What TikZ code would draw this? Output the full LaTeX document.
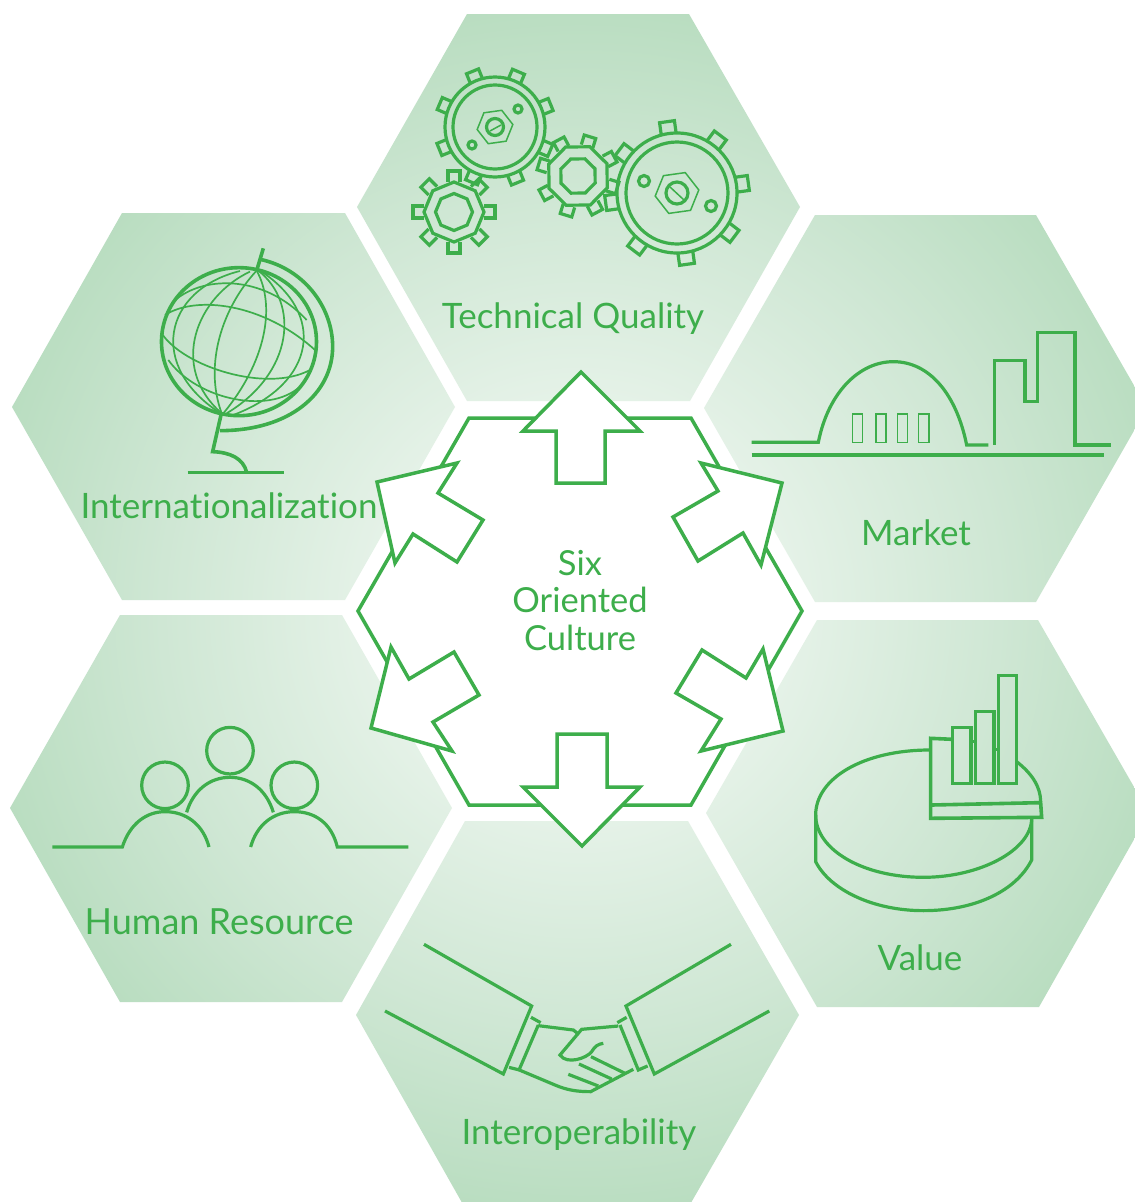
\documentclass[tikz,border=0pt]{standalone}
\usepackage{fontspec}
\setmainfont{Lato}[Ligatures=NoCommon]
\definecolor{ink}{HTML}{3DAE4B}
\pgfdeclareradialshading{hexglow}{\pgfpoint{0bp}{0bp}}{%
  rgb(0bp)=(0.93,0.97,0.94);
  rgb(8bp)=(0.90,0.95,0.91);
  rgb(16.5bp)=(0.81,0.905,0.83);
  rgb(25bp)=(0.71,0.86,0.74);
  rgb(50bp)=(0.71,0.86,0.74)}
\newcommand{\gearteeth}[6]{% cx cy offset r0 r1 hw
  \foreach \ang in {0,45,...,315}{
    \draw[heavy,shift={(#1,#2)},rotate=\ang+#3] (#4pt,-#6pt) -- (#5pt,-#6pt) -- (#5pt,#6pt) -- (#4pt,#6pt);
  }}
\newcommand{\octa}[4]{% cx cy offset r
  \draw[heavy,shift={(#1,#2)},rotate=#3] (0:#4pt) -- (45:#4pt) -- (90:#4pt) -- (135:#4pt) -- (180:#4pt) -- (225:#4pt) -- (270:#4pt) -- (315:#4pt) -- cycle;}
\newcommand{\hexa}[4]{% cx cy offset r
  \draw[fine,shift={(#1,#2)},rotate=#3] (0:#4pt) -- (60:#4pt) -- (120:#4pt) -- (180:#4pt) -- (240:#4pt) -- (300:#4pt) -- cycle;}
\tikzset{
  heavy/.style={draw=ink,line width=3.2pt,line join=miter},
  fine/.style={draw=ink,line width=1.5pt},
  hair/.style={draw=ink,line width=1.7pt},
  bold/.style={draw=ink,line width=3.6pt},
  arrowshape/.style={draw=ink,fill=white,line width=3.5pt,line join=miter},
  label/.style={text=ink,inner sep=0pt,font=\fontsize{35}{38}\selectfont,align=center},
}
\begin{document}
\begin{tikzpicture}[x=1pt,y=-1pt]
\useasboundingbox (0,0) rectangle (1135,1202);
\clip (0,0) rectangle (1135,1202);
\fill[white] (0,0) rectangle (1135,1202);
% hexagons
\begin{scope}
\clip (467,14) -- (689,14) -- (800,207) -- (690,401) -- (467,401) -- (357,207) -- cycle
      (815,215) -- (1036,215) -- (1147,408) -- (1036,602) -- (815,602) -- (704,408) -- cycle
      (817,620) -- (1038,620) -- (1149,813) -- (1039,1007) -- (817,1007) -- (706,813) -- cycle
      (465,821) -- (688,821) -- (799,1015) -- (688,1208) -- (465,1208) -- (356,1015) -- cycle
      (120,615) -- (342,615) -- (452,808) -- (342,1002) -- (120,1002) -- (10,808) -- cycle
      (122,213) -- (345,213) -- (455,407) -- (345,600) -- (122,600) -- (12,407) -- cycle;
\shade[shading=hexglow] (580,610) circle[radius=640pt];
\end{scope}
% centre hexagon
\draw[arrowshape] (469,418) -- (691,418) -- (802,611) -- (691,805) -- (469,805) -- (358,611) -- cycle;
% arrows
\draw[arrowshape] (581,372) -- (640,431) -- (605,431) -- (605,483) -- (556,483) -- (556,431) -- (523,431) -- cycle;
\draw[arrowshape] (582,846) -- (640,787) -- (607,787) -- (607,734) -- (557,734) -- (557,787) -- (523,787) -- cycle;
\draw[arrowshape] (377,482) -- (457,463) -- (438,493) -- (483,520) -- (457,562) -- (413,534) -- (395,563) -- cycle;
\draw[arrowshape] (782,483) -- (701,463) -- (718,491) -- (673,517) -- (698,561) -- (743,533) -- (761,565) -- cycle;
\draw[arrowshape] (371,728) -- (391,647) -- (409,679) -- (454,652) -- (479,695) -- (433,722) -- (452,751) -- cycle;
\draw[arrowshape] (783,731) -- (763,649) -- (746,678) -- (702,650) -- (676,693) -- (721,719) -- (701,751) -- cycle;
% gears
\gearteeth{495}{127}{22}{49}{60}{6.5}
\draw[heavy] (495,127) circle[radius=50pt] (495,127) circle[radius=42pt];
\hexa{495}{127}{8}{18}
\draw[heavy] (495,127) circle[radius=8.5pt];
\draw[fine] (490,131) -- (501,125);
\draw[heavy] (518,109) circle[radius=4pt] (472,145) circle[radius=4pt];
\gearteeth{454}{212}{0}{30}{41}{6}
\octa{454}{212}{0}{30}
\octa{454}{212}{0}{18.5}
\gearteeth{578}{176}{28}{31}{41}{6}
\octa{578}{176}{23}{31.5}
\octa{578}{176}{23}{18.5}
\gearteeth{677}{193}{8}{59}{72}{7.5}
\draw[heavy] (677,193) circle[radius=60pt] (677,193) circle[radius=51pt];
\hexa{677}{193}{8}{22}
\draw[heavy] (677,193) circle[radius=11pt];
\draw[fine] (670,187) -- (684,200);
\draw[heavy] (644,181) circle[radius=5.5pt] (711,206) circle[radius=5.5pt];
% globe
\begin{scope}[shift={(140,240)},x=0.3333pt,y=-0.3333pt]
\draw[bold] (297,305) ellipse[x radius=77.5pt,y radius=74pt];
\draw[hair] (350,92) .. controls (410,200) and (375,370) .. (250,520);
\draw[hair] (348,94) .. controls (250,200) and (190,370) .. (245,520);
\draw[hair] (330,95) .. controls (170,170) and (85,380) .. (245,520);
\draw[hair] (300,93) .. controls (70,150) and (20,380) .. (245,522);
\draw[hair] (355,92) .. controls (480,190) and (460,400) .. (260,520);
\draw[hair] (360,92) .. controls (560,220) and (530,430) .. (280,525);
\draw[hair] (95,190) .. controls (180,105) and (370,100) .. (500,240);
\draw[hair] (75,225) .. controls (170,165) and (370,190) .. (525,330);
\draw[hair] (65,280) .. controls (130,380) and (380,460) .. (510,390);
\draw[hair] (85,360) .. controls (170,480) and (400,530) .. (490,430);
\draw[bold] (370,25) -- (350,92);
\draw[bold] (360,58) .. controls (490,85) and (578,200) .. (578,320) .. controls (578,460) and (450,572) .. (240,572);
\draw[bold,line join=miter] (243,525) -- (218,635) .. controls (270,637) and (310,655) .. (320,697);
\draw[bold] (143,697) -- (432,697);
\end{scope}
% market
\begin{scope}[shift={(740,320)},x=0.3333pt,y=-0.3333pt]
\draw[heavy] (35,367) -- (235,367) .. controls (265,215) and (360,125) .. (460,125) .. controls (570,125) and (650,225) .. (680,375) -- (745,375);
\draw[fine] (338,282) rectangle (368,368) (408,282) rectangle (438,368) (472,282) rectangle (503,368) (535,282) rectangle (567,368);
\draw[heavy] (763,375) -- (763,122) -- (855,122) -- (855,245) -- (893,245) -- (893,37) -- (1005,37) -- (1005,375) -- (1112,375);
\draw[bold] (35,405) -- (1093,405);
\end{scope}
% people
\begin{scope}[shift={(40,715)},x=0.3333pt,y=-0.3333pt]
\draw[heavy] (375,211) circle[radius=23.3pt] (570,107) circle[radius=23.3pt] (763,211) circle[radius=23.3pt];
\draw[heavy] (37,396) -- (247,396) .. controls (270,325) and (320,290) .. (375,290) .. controls (440,290) and (490,330) .. (507,396);
\draw[heavy] (632,396) .. controls (650,330) and (700,290) .. (763,290) .. controls (825,290) and (875,325) .. (892,396) -- (1105,396);
\draw[heavy] (440,292) .. controls (460,225) and (510,187) .. (570,187) .. controls (630,187) and (680,225) .. (700,292);
\end{scope}
% pie chart
\begin{scope}[shift={(800,660)},x=0.3333pt,y=-0.3333pt]
\draw[heavy] (390,270) .. controls (190,270) and (47,355) .. (47,465) .. controls (47,570) and (190,652) .. (370,652) .. controls (540,652) and (695,570) .. (695,475);
\draw[heavy] (650,305) .. controls (695,340) and (722,380) .. (722,425);
\draw[heavy] (47,465) -- (47,605) .. controls (90,690) and (220,752) .. (370,752) .. controls (530,752) and (650,690) .. (695,600) -- (695,475);
\draw[bold] (458,238) -- (392,235) -- (392,475) -- (725,472) -- (722,428) -- (397,435);
\draw[heavy] (458,202) rectangle (513,370) (527,155) rectangle (582,370) (595,47) rectangle (650,370);
\draw[heavy] (513,245) -- (527,245) (582,268) -- (595,268);
\end{scope}
% handshake
\begin{scope}[shift={(370,930)},x=0.3333pt,y=-0.3333pt]
\draw[heavy] (162,43) -- (485,228) -- (400,432) -- (45,243);
\draw[heavy] (1083,43) -- (768,228) -- (853,432) -- (1198,243);
\draw[heavy] (483,262) -- (512,278) (505,285) -- (448,418) (417,412) -- (448,420);
\draw[heavy] (770,262) -- (742,278) (750,285) -- (805,420) -- (833,408);
\draw[heavy] (505,287) -- (610,300) -- (625,312);
\draw[heavy] (448,420) -- (555,465) .. controls (590,480) and (620,485) .. (662,485) -- (790,418);
\draw[heavy] (745,288) -- (635,298) -- (570,375) .. controls (590,405) and (650,385) .. (665,365) .. controls (675,348) and (685,342) .. (700,340);
\draw[heavy] (663,380) -- (765,430) (627,402) -- (725,447) (595,433) -- (685,468);
\end{scope}
% labels
\node[label] (tq) at (573,319) {Technical Quality};
\node[label] (in) at (229,506) {Internationalization};
\node[label] (mk) at (916,533) {Market};
\node[label] (va) at (920,958) {Value};
\node[label,font=\fontsize{36}{38}\selectfont] (hr) at (219,922) {Human Resource};
\node[label] (io) at (579,1135) {Interoperability};
\node[label,font=\fontsize{34.5}{38}\selectfont] (s1) at (580,563) {Six};
\node[label,font=\fontsize{34.5}{38}\selectfont] (s2) at (580,600) {Oriented};
\node[label,font=\fontsize{34.5}{38}\selectfont] (s3) at (580,638) {Culture};
\end{tikzpicture}
\end{document}
